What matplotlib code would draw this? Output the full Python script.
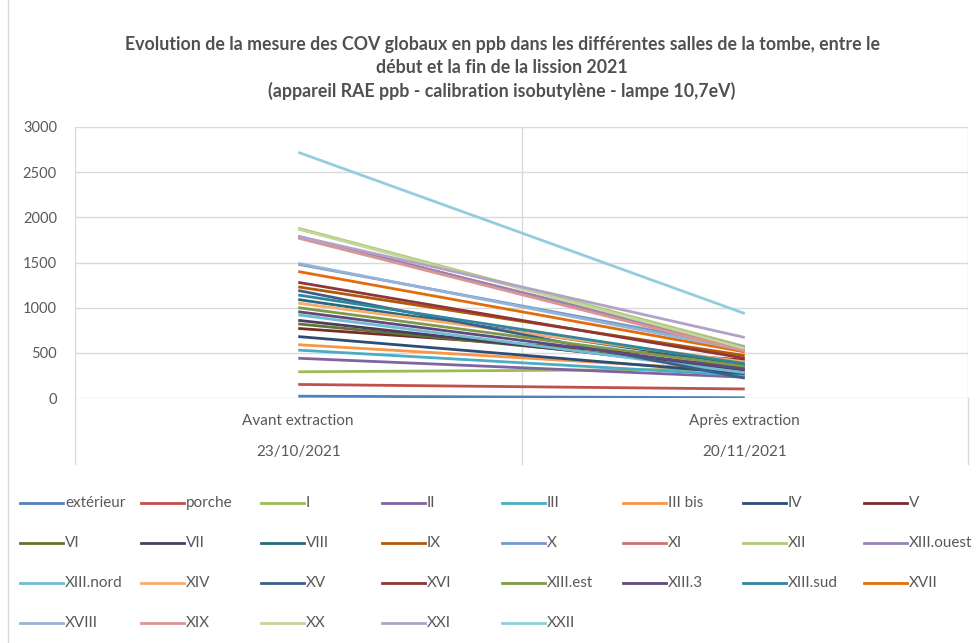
import numpy as np
import matplotlib.pyplot as plt
from matplotlib.lines import Line2D

plt.rcParams['font.family'] = ['Lato', 'DejaVu Sans']

# categories (two-level x axis)
phases = ['Avant extraction', 'Après extraction']
dates = ['23/10/2021', '20/11/2021']

salles = ['extérieur', 'porche', 'I', 'II', 'III', 'III bis', 'IV', 'V',
          'VI', 'VII', 'VIII', 'IX', 'X', 'XI', 'XII', 'XIII.ouest',
          'XIII.nord', 'XIV', 'XV', 'XVI', 'XIII.est', 'XIII.3', 'XIII.sud', 'XVII',
          'XVIII', 'XIX', 'XX', 'XXI', 'XXII']

# COV globaux (ppb)
avant = [20, 150, 290, 440, 530, 590, 680, 770,
         820, 860, 1090, 1230, 1480, 1790, 1880, 1780,
         920, 1050, 1190, 1280, 1000, 955, 1140, 1400,
         1490, 1770, 1870, 1790, 2720]
apres = [3, 100, 320, 230, 250, 300, 270, 420,
         340, 310, 370, 470, 560, 540, 570, 560,
         280, 400, 220, 440, 350, 320, 380, 510,
         530, 520, 550, 670, 935]

colors = ['#4F81BD', '#C0504D', '#9BBB59', '#8064A2', '#4BACC6', '#F79646', '#2C4D75', '#772C2A',
          '#5F7530', '#4D3B62', '#276A7C', '#B65708', '#729ACA', '#CD7371', '#AFC97A', '#9983B5',
          '#6FBDD1', '#F9AB6B', '#3A5F8B', '#8C3836', '#7F9A48', '#5E4A7D', '#31859C', '#E46C0A',
          '#95B3D7', '#D99694', '#C3D69B', '#B3A2C7', '#93CDDD']

W, H = 976, 643
fig = plt.figure(figsize=(W / 100, H / 100), dpi=100)
ax = fig.add_axes([75 / W, 1 - 398 / H, (968 - 75) / W, (398 - 127) / H])

x = np.arange(len(phases))
for name, a, b, c in zip(salles, avant, apres, colors):
    ax.plot(x, [a, b], color=c, lw=2.0, solid_capstyle='butt', label=name)

ax.set_xlim(-0.5, 1.5)
ax.set_ylim(0, 3000)
ax.set_yticks(range(0, 3001, 500))
ax.yaxis.grid(True, color='#D9D9D9', lw=1)
ax.set_axisbelow(True)
for xs in [-0.5, 0.5, 1.5]:
    ax.axvline(xs, color='#D9D9D9', lw=1, zorder=0)
for s in ax.spines.values():
    s.set_visible(False)
ax.tick_params(axis='y', length=0, pad=13, labelsize=10.5, labelcolor='#595959')
ax.set_xticks([])

# two-level category labels with separators below the axis
for i in range(len(phases)):
    ax.text(x[i], -0.085, phases[i], transform=ax.get_xaxis_transform(),
            ha='center', va='center', fontsize=11, color='#595959')
    ax.text(x[i], -0.2, dates[i], transform=ax.get_xaxis_transform(),
            ha='center', va='center', fontsize=11, color='#595959')
for xs in [-0.5, 0.5, 1.5]:
    ax.plot([xs, xs], [0, -0.245], transform=ax.get_xaxis_transform(),
            color='#D9D9D9', lw=1, clip_on=False)

fig.text(502 / W, 1 - 68 / H,
         'Evolution de la mesure des COV globaux en ppb dans les différentes salles de la tombe, entre le\n'
         'début et la fin de la lission 2021\n'
         '(appareil RAE ppb - calibration isobutylène - lampe 10,7eV)',
         ha='center', va='center', fontsize=12.8, fontweight='bold', color='#505050',
         linespacing=1.38)

# frame edge on the left
fig.add_artist(Line2D([8 / W, 8 / W], [0, 1], color='#D9D9D9', lw=1))

# legend, 8 equal columns
for i, (name, c) in enumerate(zip(salles, colors)):
    col, row = i % 8, i // 8
    x0 = 20 + col * 120.5
    y0 = 503 + row * 40
    fig.add_artist(Line2D([x0 / W, (x0 + 43) / W], [1 - y0 / H, 1 - y0 / H], color=c, lw=2.0))
    fig.text((x0 + 45) / W, 1 - y0 / H, name, ha='left', va='center',
             fontsize=11, color='#595959')

fig.savefig('out.png', dpi=100)
